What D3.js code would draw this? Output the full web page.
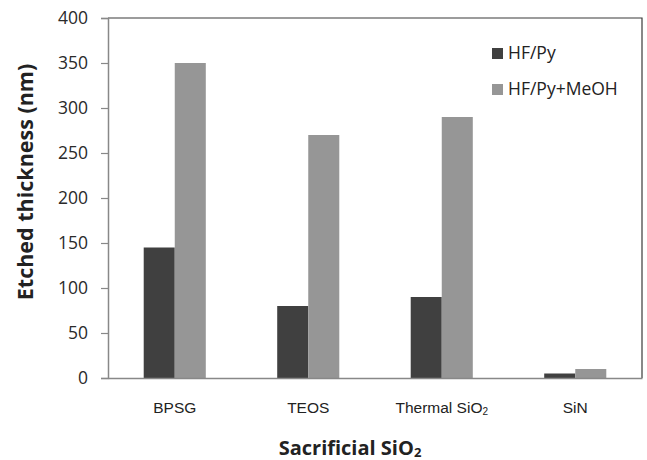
<!DOCTYPE html>
<html>
<head>
<meta charset="utf-8">
<script src="https://cdn.jsdelivr.net/npm/d3@7"></script>
<style>
  body { margin: 0; background: #fff; }
</style>
</head>
<body>
<script>
// values
const categories = ["BPSG", "TEOS", "Thermal SiO2", "SiN"];
const seriesNames = ["HF/Py", "HF/Py+MeOH"];
const hfPy = [145, 80, 90, 5];
const hfPyMeOH = [350, 270, 290, 10];
const yTicks = [0, 50, 100, 150, 200, 250, 300, 350, 400];

const colors = ["#404040", "#969696"];

const w = 647, h = 460;
const margin = { top: 18, right: 5, bottom: 82, left: 108 };

const svg = d3.select("body").append("svg")
    .attr("width", w)
    .attr("height", h)
    .style("display", "block");

const rows = categories.map((c, i) => ({ cat: c, vals: [hfPy[i], hfPyMeOH[i]] }));

const x = d3.scaleBand()
    .domain(categories)
    .range([margin.left, w - margin.right])
    .paddingInner(0.535)
    .paddingOuter(0.2675);

const x1 = d3.scaleBand()
    .domain([0, 1])
    .range([0, x.bandwidth()]);

const y = d3.scaleLinear()
    .domain([0, 400])
    .range([h - margin.bottom, margin.top]);

// frame (top and right edges)
svg.append("path")
    .attr("d", `M${margin.left},${margin.top}H${w - margin.right}V${h - margin.bottom}`)
    .attr("fill", "none")
    .attr("stroke", "#3a3a3a")
    .attr("stroke-width", 1.2);

// bars
svg.append("g").selectAll("g")
    .data(rows)
    .join("g")
    .attr("transform", d => `translate(${x(d.cat)},0)`)
    .selectAll("rect")
    .data(d => d.vals)
    .join("rect")
    .attr("x", (d, i) => x1(i))
    .attr("y", d => y(d))
    .attr("width", x1.bandwidth())
    .attr("height", d => y(0) - y(d))
    .attr("fill", (d, i) => colors[i]);

// y axis
const yAxis = svg.append("g")
    .attr("transform", `translate(${margin.left},0)`)
    .call(d3.axisLeft(y).tickValues(yTicks).tickSize(7).tickPadding(13));
yAxis.select(".domain").attr("stroke", "#888").attr("stroke-width", 1.5);
yAxis.selectAll(".tick line").attr("stroke", "#888").attr("stroke-width", 1.2);
yAxis.selectAll("text")
    .attr("fill", "#2a2a2a")
    .style("font-family", "'Open Sans'")
    .style("font-size", "17.5px");

// x axis
const xAxis = svg.append("g")
    .attr("transform", `translate(0,${h - margin.bottom})`)
    .call(d3.axisBottom(x).tickSize(0).tickPadding(24).tickFormat(""));
xAxis.select(".domain").attr("stroke", "#888").attr("stroke-width", 1.5);

const xl = xAxis.selectAll(".tick text")
    .attr("fill", "#222")
    .style("font-family", "'Liberation Sans', Arial")
    .style("font-size", "15.5px");
xl.each(function (d) {
    const t = d3.select(this);
    if (d.endsWith("SiO2")) {
        t.append("tspan").text(d.slice(0, -1));
        t.append("tspan").text("2").style("font-size", "10px").attr("dy", 2);
    } else {
        t.text(d);
    }
});

// axis titles
svg.append("text")
    .attr("transform", `translate(33,182) rotate(-90)`)
    .attr("text-anchor", "middle")
    .style("font-family", "'Open Sans'")
    .style("font-weight", "bold")
    .style("font-size", "21.5px")
    .attr("fill", "#222")
    .text("Etched thickness (nm)");

const xt = svg.append("text")
    .attr("x", 350)
    .attr("y", 455)
    .attr("text-anchor", "middle")
    .style("font-family", "'Open Sans'")
    .style("font-weight", "bold")
    .style("font-size", "20px")
    .attr("fill", "#222");
xt.append("tspan").text("Sacrificial SiO");
xt.append("tspan").text("2").style("font-size", "13px").attr("dy", 2);

// legend
const legend = svg.append("g").attr("transform", "translate(492,48)");
const li = legend.selectAll("g")
    .data(seriesNames)
    .join("g")
    .attr("transform", (d, i) => `translate(0,${i * 36})`);
li.append("rect")
    .attr("width", 11)
    .attr("height", 11)
    .attr("fill", (d, i) => colors[i]);
li.append("text")
    .attr("x", 16)
    .attr("y", 11)
    .style("font-family", "'Open Sans'")
    .style("font-size", "17.5px")
    .attr("fill", "#222")
    .text(d => d);
</script>
</body>
</html>
